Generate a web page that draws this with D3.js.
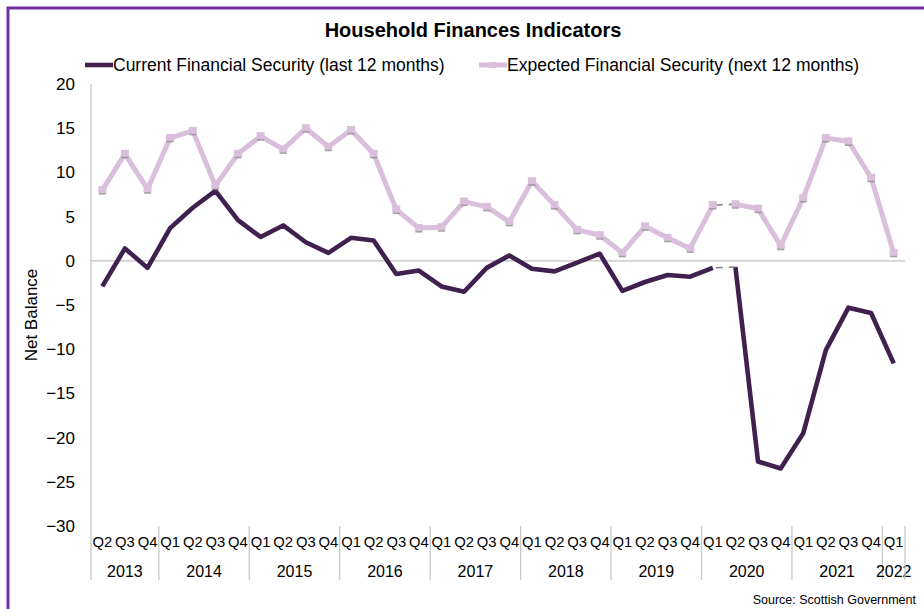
<!DOCTYPE html>
<html>
<head>
<meta charset="utf-8">
<script src="https://cdn.jsdelivr.net/npm/d3@7"></script>
<style>
  body { margin: 0; background: #fff; }
  svg { font-family: "Liberation Sans", Arial, sans-serif; display: block; }
</style>
</head>
<body>
<div id="chart"></div>
<script>
// quarters from 2013 Q2 to 2022 Q1
const quarters = ["2013 Q2","2013 Q3","2013 Q4",
  "2014 Q1","2014 Q2","2014 Q3","2014 Q4",
  "2015 Q1","2015 Q2","2015 Q3","2015 Q4",
  "2016 Q1","2016 Q2","2016 Q3","2016 Q4",
  "2017 Q1","2017 Q2","2017 Q3","2017 Q4",
  "2018 Q1","2018 Q2","2018 Q3","2018 Q4",
  "2019 Q1","2019 Q2","2019 Q3","2019 Q4",
  "2020 Q1","2020 Q2","2020 Q3","2020 Q4",
  "2021 Q1","2021 Q2","2021 Q3","2021 Q4",
  "2022 Q1"]
const years = ["2013","2014","2015","2016","2017","2018","2019","2020","2021","2022"]
const yTicks = [20, 15, 10, 5, 0, -5, -10, -15, -20, -25, -30]

const current = [-2.9, 1.4, -0.8, 3.7, 6.0, 7.9, 4.6, 2.7, 4.0, 2.1, 0.9, 2.6, 2.3, -1.5, -1.1,
  -2.9, -3.5, -0.8, 0.6, -0.9, -1.2, -0.2, 0.8, -3.4, -2.4, -1.6, -1.8, -0.8,
  -0.7, -22.7, -23.5, -19.5, -10.1, -5.3, -5.9, -11.6]
const expected = [8.0, 12.1, 8.1, 13.9, 14.7, 8.5, 12.1, 14.1, 12.6, 15.0, 12.9, 14.8, 12.1, 5.8, 3.7,
  3.8, 6.7, 6.1, 4.4, 9.0, 6.3, 3.5, 2.9, 0.9, 3.9, 2.6, 1.4, 6.3,
  6.4, 5.9, 1.7, 7.1, 13.9, 13.5, 9.4, 0.9]
// survey change: segment between 2020 Q1 and 2020 Q2 drawn dashed
const breakAt = 27

const darkCol = "#40204f"
const lightCol = "#d9bfdb"

let width = 924, height = 609
let margin = {top: 84, left: 91, right: 19, bottom: 83}
let innerW = width - margin.left - margin.right
let innerH = height - margin.top - margin.bottom

const svg = d3.select("#chart").append("svg")
  .attr("width", width).attr("height", height)

// purple border
svg.append("rect")
  .attr("x", 8).attr("y", 8)
  .attr("width", 930).attr("height", 620)
  .attr("fill", "none").attr("stroke", "#7030a0").attr("stroke-width", 3)

svg.append("text")
  .attr("x", 473).attr("y", 37)
  .attr("text-anchor", "middle")
  .attr("font-size", 20).attr("font-weight", "bold")
  .attr("fill", "#000")
  .text("Household Finances Indicators")

const g = svg.append("g").attr("transform", "translate(" + margin.left + "," + margin.top + ")")

let x = d3.scaleBand().domain(quarters).range([0, innerW])
let y = d3.scaleLinear().domain([-30, 20]).range([innerH, 0])
let cx = d => x(d) + x.bandwidth() / 2

// y axis
const yAxis = g.append("g")
  .call(d3.axisLeft(y).tickValues(yTicks).tickSize(0).tickPadding(16))
yAxis.select(".domain").remove()
yAxis.selectAll("text").attr("font-size", 17).attr("fill", "#000")
  .attr("font-family", "Liberation Sans, Arial, sans-serif")

g.append("line")
  .attr("x1", 0).attr("x2", 0).attr("y1", 0).attr("y2", innerH + 54)
  .attr("stroke", "#c8c8c8").attr("stroke-width", 1.3)

// zero line
g.append("line")
  .attr("x1", 0).attr("x2", innerW).attr("y1", y(0)).attr("y2", y(0))
  .attr("stroke", "#bfbfbf").attr("stroke-width", 1.3)

svg.append("text")
  .attr("transform", "translate(37,315) rotate(-90)")
  .attr("text-anchor", "middle")
  .attr("font-size", 17).attr("fill", "#000")
  .text("Net Balance")

// x axis: quarter labels
const xAxis = g.append("g")
  .attr("transform", "translate(0," + innerH + ")")
  .call(d3.axisBottom(x).tickSize(0).tickPadding(10).tickFormat(d => d.split(" ")[1]))
xAxis.select(".domain").remove()
xAxis.selectAll("text").attr("font-size", 14.8).attr("fill", "#000")
  .attr("font-family", "Liberation Sans, Arial, sans-serif")

// year groups
years.forEach(function(yr) {
  let qs = quarters.filter(q => q.startsWith(yr))
  let x0 = x(qs[0]), x1 = x(qs[qs.length - 1]) + x.bandwidth()
  g.append("text")
    .attr("x", (x0 + x1) / 2).attr("y", innerH + 51)
    .attr("text-anchor", "middle")
    .attr("font-size", 16).attr("fill", "#000")
    .text(yr)
  g.append("line")
    .attr("x1", x1).attr("x2", x1).attr("y1", innerH).attr("y2", innerH + 54)
    .attr("stroke", "#c8c8c8").attr("stroke-width", 1.3)
})

function drawSeries(vals, col, w) {
  let idx = vals.map((v, i) => i)
  let partA = idx.filter(i => i <= breakAt)
  let partB = idx.filter(i => i > breakAt)
  let l = d3.line().x(i => cx(quarters[i])).y(i => y(vals[i]))
  g.append("path").datum(partA).attr("d", l)
    .attr("fill", "none").attr("stroke", col).attr("stroke-width", w)
    .attr("stroke-linejoin", "round")
  g.append("path").datum(partB).attr("d", l)
    .attr("fill", "none").attr("stroke", col).attr("stroke-width", w)
    .attr("stroke-linejoin", "round")
  g.append("path").datum([breakAt, breakAt + 1]).attr("d", l)
    .attr("fill", "none").attr("stroke", "#7f7f7f").attr("stroke-width", 1.6)
    .attr("stroke-dasharray", "7,6").attr("stroke-dashoffset", -3)
}

drawSeries(current, darkCol, 4.6)
drawSeries(expected, lightCol, 5)

// square markers on expected series with a soft shadow
const mk = g.selectAll(".mk").data(expected).enter().append("g").attr("class", "mk")
  .attr("transform", (d, i) => "translate(" + cx(quarters[i]) + "," + y(d) + ")")
mk.append("rect").attr("x", -3.5).attr("y", -1.5).attr("width", 7).attr("height", 6)
  .attr("fill", "#8c8c8c").attr("opacity", 0.8)
mk.append("rect").attr("x", -4).attr("y", -4).attr("width", 8).attr("height", 7)
  .attr("fill", lightCol)

// legend
const lg = svg.append("g").attr("font-size", 17.5)
lg.append("line").attr("x1", 85).attr("x2", 113).attr("y1", 65).attr("y2", 65)
  .attr("stroke", darkCol).attr("stroke-width", 4.6)
lg.append("text").attr("x", 113).attr("y", 71).attr("fill", "#000")
  .text("Current Financial Security (last 12 months)")
lg.append("line").attr("x1", 479).attr("x2", 507).attr("y1", 65).attr("y2", 65)
  .attr("stroke", lightCol).attr("stroke-width", 5)
lg.append("rect").attr("x", 489).attr("y", 62).attr("width", 7).attr("height", 6)
  .attr("fill", lightCol)
lg.append("text").attr("x", 507).attr("y", 71).attr("fill", "#000")
  .text("Expected Financial Security (next 12 months)")

svg.append("text")
  .attr("x", 916).attr("y", 604)
  .attr("text-anchor", "end")
  .attr("font-size", 12.5).attr("fill", "#000")
  .text("Source: Scottish Government")
</script>
</body>
</html>
